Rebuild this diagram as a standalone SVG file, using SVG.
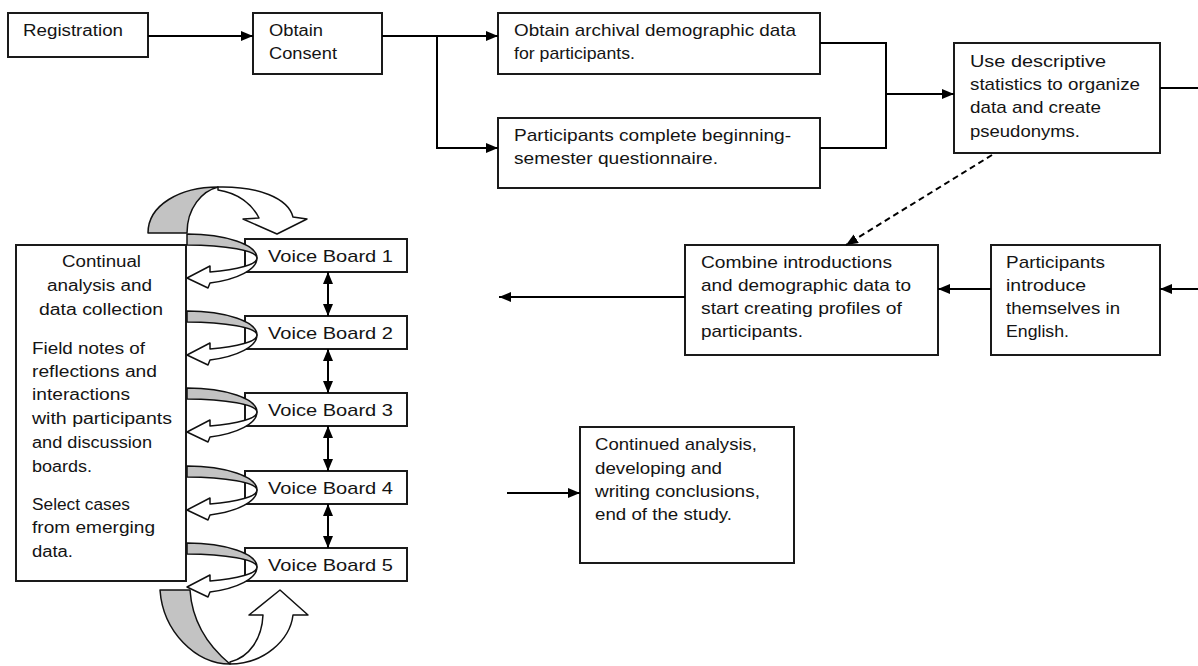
<svg xmlns="http://www.w3.org/2000/svg" xmlns:xlink="http://www.w3.org/1999/xlink" width="1198" height="666" viewBox="0 0 1198 666">
  <style>
    .box { fill: #ffffff; stroke: #1a1a1a; stroke-width: 2; }
    .t { font-family: "Liberation Sans", Arial, sans-serif; font-size: 17px; fill: #141414; }
    .sm { font-size: 16px; }
    .conn { fill: none; stroke: #000000; stroke-width: 2; }
    .dash { stroke-dasharray: 6 4; }
    .band { fill: #c3c3c3; stroke: #111111; stroke-width: 1.5; stroke-linejoin: round; }
    .turn { fill: #ffffff; stroke: #111111; stroke-width: 1.5; stroke-linejoin: round; }
  </style>
  <defs>
    <marker id="ah" markerUnits="userSpaceOnUse" viewBox="0 0 12 10" markerWidth="12" markerHeight="10" refX="12" refY="5" orient="auto-start-reverse">
      <path d="M0,0 L12,5 L0,10 Z" fill="#000000"/>
    </marker>
    <!-- one loop: grey back band plus white returning arrow, drawn relative to a board's top edge -->
    <g id="loop">
      <path class="band" d="M187,-5 A70,24 0 0 1 257,19 A70,13 0 0 0 187,6 Z"/>
      <path class="turn" d="M257,19 A70,26.5 0 0 1 210,44 L208,49 L187,39 L210,27 L210,33 A70,14.8 0 0 0 257,19 Z"/>
    </g>
  </defs>

  <rect width="1198" height="666" fill="#ffffff"/>

  <!-- top row -->
  <g id="n-registration">
    <rect class="box" x="8" y="13" width="140" height="44"/>
    <text class="t sm" x="23" y="36" textLength="100" lengthAdjust="spacingAndGlyphs">Registration</text>
  </g>
  <g id="n-consent">
    <rect class="box" x="253" y="13" width="129" height="61"/>
    <text class="t sm" x="269" y="36" textLength="54" lengthAdjust="spacingAndGlyphs">Obtain</text>
    <text class="t sm" x="269" y="59" textLength="68" lengthAdjust="spacingAndGlyphs">Consent</text>
  </g>
  <g id="n-archival">
    <rect class="box" x="498" y="13" width="322" height="61"/>
    <text class="t" x="514" y="36" textLength="282" lengthAdjust="spacingAndGlyphs">Obtain archival demographic data</text>
    <text class="t" x="514" y="59" textLength="121" lengthAdjust="spacingAndGlyphs">for participants.</text>
  </g>
  <g id="n-questionnaire">
    <rect class="box" x="498" y="118" width="322" height="70"/>
    <text class="t" x="514" y="141" textLength="277" lengthAdjust="spacingAndGlyphs">Participants complete beginning-</text>
    <text class="t" x="514" y="164" textLength="204" lengthAdjust="spacingAndGlyphs">semester questionnaire.</text>
  </g>
  <g id="n-descriptive">
    <rect class="box" x="954" y="43" width="206" height="110"/>
    <text class="t" x="970" y="67" textLength="136" lengthAdjust="spacingAndGlyphs">Use descriptive</text>
    <text class="t" x="970" y="90" textLength="170" lengthAdjust="spacingAndGlyphs">statistics to organize</text>
    <text class="t" x="970" y="113" textLength="131" lengthAdjust="spacingAndGlyphs">data and create</text>
    <text class="t" x="970" y="137" textLength="110" lengthAdjust="spacingAndGlyphs">pseudonyms.</text>
  </g>

  <!-- middle row -->
  <g id="n-combine">
    <rect class="box" x="685" y="245" width="253" height="110"/>
    <text class="t" x="701" y="268" textLength="191" lengthAdjust="spacingAndGlyphs">Combine introductions</text>
    <text class="t" x="701" y="291" textLength="210" lengthAdjust="spacingAndGlyphs">and demographic data to</text>
    <text class="t" x="701" y="314" textLength="201" lengthAdjust="spacingAndGlyphs">start creating profiles of</text>
    <text class="t" x="701" y="337" textLength="102" lengthAdjust="spacingAndGlyphs">participants.</text>
  </g>
  <g id="n-introduce">
    <rect class="box" x="991" y="245" width="169" height="110"/>
    <text class="t" x="1006" y="268" textLength="99" lengthAdjust="spacingAndGlyphs">Participants</text>
    <text class="t" x="1006" y="291" textLength="80" lengthAdjust="spacingAndGlyphs">introduce</text>
    <text class="t" x="1006" y="314" textLength="114" lengthAdjust="spacingAndGlyphs">themselves in</text>
    <text class="t" x="1006" y="337" textLength="63" lengthAdjust="spacingAndGlyphs">English.</text>
  </g>
  <g id="n-continued">
    <rect class="box" x="580" y="427" width="214" height="136"/>
    <text class="t" x="595" y="450" textLength="162" lengthAdjust="spacingAndGlyphs">Continued analysis,</text>
    <text class="t" x="595" y="474" textLength="127" lengthAdjust="spacingAndGlyphs">developing and</text>
    <text class="t" x="595" y="497" textLength="165" lengthAdjust="spacingAndGlyphs">writing conclusions,</text>
    <text class="t" x="595" y="520" textLength="137" lengthAdjust="spacingAndGlyphs">end of the study.</text>
  </g>

  <!-- analysis panel -->
  <g id="n-analysis">
    <rect class="box" x="16" y="245" width="170" height="336" stroke-width="1.6"/>
    <text class="t sm" x="101.5" y="267" text-anchor="middle" textLength="79" lengthAdjust="spacingAndGlyphs">Continual</text>
    <text class="t sm" x="99.5" y="291" text-anchor="middle" textLength="105" lengthAdjust="spacingAndGlyphs">analysis and</text>
    <text class="t sm" x="101" y="315" text-anchor="middle" textLength="124" lengthAdjust="spacingAndGlyphs">data collection</text>
    <text class="t sm" x="32" y="354" textLength="113" lengthAdjust="spacingAndGlyphs">Field notes of</text>
    <text class="t sm" x="32" y="377" textLength="125" lengthAdjust="spacingAndGlyphs">reflections and</text>
    <text class="t sm" x="32" y="400" textLength="98" lengthAdjust="spacingAndGlyphs">interactions</text>
    <text class="t sm" x="32" y="424" textLength="140" lengthAdjust="spacingAndGlyphs">with participants</text>
    <text class="t sm" x="32" y="448" textLength="120" lengthAdjust="spacingAndGlyphs">and discussion</text>
    <text class="t sm" x="32" y="472" textLength="60" lengthAdjust="spacingAndGlyphs">boards.</text>
    <text class="t sm" x="32" y="510" textLength="98" lengthAdjust="spacingAndGlyphs">Select cases</text>
    <text class="t sm" x="32" y="533" textLength="123" lengthAdjust="spacingAndGlyphs">from emerging</text>
    <text class="t sm" x="32" y="557" textLength="41" lengthAdjust="spacingAndGlyphs">data.</text>
  </g>

  <!-- voice boards -->
  <g id="n-vb1">
    <rect class="box" x="245" y="239" width="162" height="33"/>
    <text class="t" x="268" y="262" textLength="125" lengthAdjust="spacingAndGlyphs">Voice Board 1</text>
  </g>
  <g id="n-vb2">
    <rect class="box" x="245" y="316" width="162" height="33"/>
    <text class="t" x="268" y="339" textLength="125" lengthAdjust="spacingAndGlyphs">Voice Board 2</text>
  </g>
  <g id="n-vb3">
    <rect class="box" x="245" y="393" width="162" height="33"/>
    <text class="t" x="268" y="416" textLength="125" lengthAdjust="spacingAndGlyphs">Voice Board 3</text>
  </g>
  <g id="n-vb4">
    <rect class="box" x="245" y="471" width="162" height="33"/>
    <text class="t" x="268" y="494" textLength="125" lengthAdjust="spacingAndGlyphs">Voice Board 4</text>
  </g>
  <g id="n-vb5">
    <rect class="box" x="245" y="548" width="162" height="33"/>
    <text class="t" x="268" y="571" textLength="125" lengthAdjust="spacingAndGlyphs">Voice Board 5</text>
  </g>

  <!-- cycle arrows between the panel and the boards -->
  <g id="cycle-arrows">
    <use xlink:href="#loop" href="#loop" transform="translate(0,239)"/>
    <use xlink:href="#loop" href="#loop" transform="translate(0,316)"/>
    <use xlink:href="#loop" href="#loop" transform="translate(0,393)"/>
    <use xlink:href="#loop" href="#loop" transform="translate(0,471)"/>
    <use xlink:href="#loop" href="#loop" transform="translate(0,548)"/>
    <!-- top arch -->
    <path class="band" d="M148,233 C148,205 180,187 218,187 C202,191 187,208 187,233 Z"/>
    <path class="turn" d="M218,187 C258,186 288,198 293,217 L307,219 L277,234 L243,219 L259,218 C252,204 238,193 218,190 Z"/>
    <!-- bottom arch -->
    <path class="band" d="M160,590 C163,632 196,664 230,664 C207,645 192,620 190,590 Z"/>
    <path class="turn" d="M230,664 C264,664 290,640 293,615 L308,615 L280,590 L249,615 L263,615 C262,638 250,657 230,662 Z"/>
  </g>

  <!-- connectors -->
  <g id="connectors">
    <path class="conn" d="M148,36 H253" marker-end="url(#ah)"/>
    <path class="conn" d="M382,36 H498" marker-end="url(#ah)"/>
    <path class="conn" d="M437,36 V148 H498" marker-end="url(#ah)"/>
    <path class="conn" d="M820,43 H886 V148 H820"/>
    <path class="conn" d="M886,94 H954" marker-end="url(#ah)"/>
    <path class="conn" d="M1160,88 H1198"/>
    <path class="conn dash" d="M992,155 L846,245" marker-end="url(#ah)"/>
    <path class="conn" d="M1198,289 H1160" marker-end="url(#ah)"/>
    <path class="conn" d="M991,289 H938" marker-end="url(#ah)"/>
    <path class="conn" d="M685,297 H499" marker-end="url(#ah)"/>
    <path class="conn" d="M507,493 H580" marker-end="url(#ah)"/>
    <path class="conn" d="M328,272 V316" marker-start="url(#ah)" marker-end="url(#ah)"/>
    <path class="conn" d="M328,349 V393" marker-start="url(#ah)" marker-end="url(#ah)"/>
    <path class="conn" d="M328,426 V471" marker-start="url(#ah)" marker-end="url(#ah)"/>
    <path class="conn" d="M328,504 V548" marker-start="url(#ah)" marker-end="url(#ah)"/>
  </g>
</svg>
